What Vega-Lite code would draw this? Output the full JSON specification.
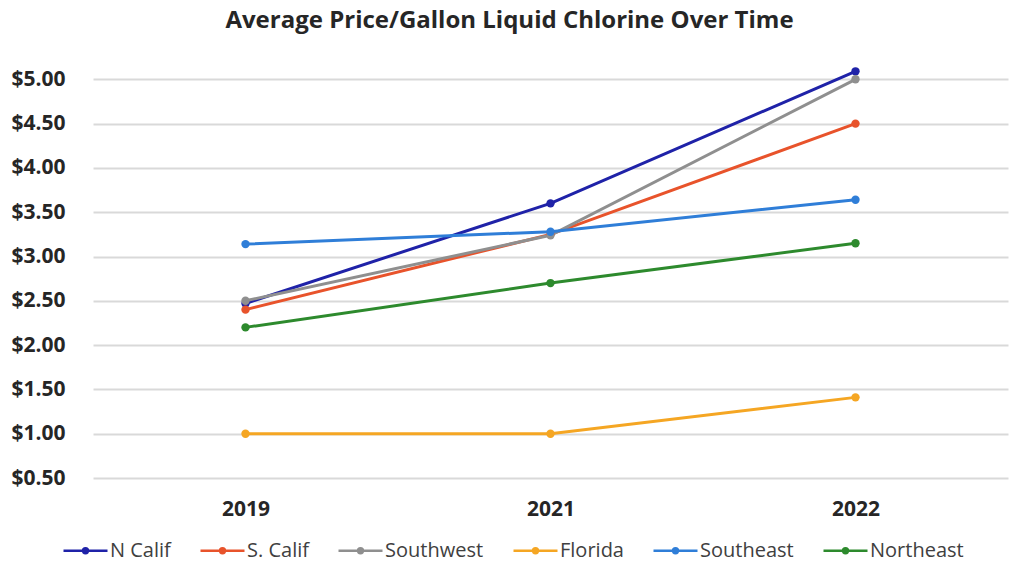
{
  "$schema": "https://vega.github.io/schema/vega-lite/v6.json",
  "width": 915,
  "height": 443,
  "padding": {"left": 10, "top": 9, "right": 14, "bottom": 10},
  "background": "white",
  "title": {
    "text": "Average Price/Gallon Liquid Chlorine Over Time",
    "font": "Open Sans",
    "fontSize": 24,
    "fontWeight": "bold",
    "color": "#262626",
    "anchor": "middle",
    "frame": "bounds",
    "offset": 2
  },
  "data": {
    "values": [
      {"region": "N Calif", "year": "2019", "price": 2.47},
      {"region": "N Calif", "year": "2021", "price": 3.60},
      {"region": "N Calif", "year": "2022", "price": 5.09},
      {"region": "S. Calif", "year": "2019", "price": 2.40},
      {"region": "S. Calif", "year": "2021", "price": 3.25},
      {"region": "S. Calif", "year": "2022", "price": 4.50},
      {"region": "Southwest", "year": "2019", "price": 2.50},
      {"region": "Southwest", "year": "2021", "price": 3.24},
      {"region": "Southwest", "year": "2022", "price": 5.00},
      {"region": "Florida", "year": "2019", "price": 1.00},
      {"region": "Florida", "year": "2021", "price": 1.00},
      {"region": "Florida", "year": "2022", "price": 1.41},
      {"region": "Southeast", "year": "2019", "price": 3.14},
      {"region": "Southeast", "year": "2021", "price": 3.28},
      {"region": "Southeast", "year": "2022", "price": 3.64},
      {"region": "Northeast", "year": "2019", "price": 2.20},
      {"region": "Northeast", "year": "2021", "price": 2.70},
      {"region": "Northeast", "year": "2022", "price": 3.15}
    ]
  },
  "encoding": {
    "x": {
      "field": "year",
      "type": "ordinal",
      "scale": {"type": "point", "padding": 0.5},
      "axis": {
        "title": null,
        "labelAngle": 0,
        "domain": false,
        "ticks": false,
        "grid": false,
        "labelFont": "Open Sans",
        "labelFontSize": 21,
        "labelFontWeight": "bold",
        "labelColor": "#262626",
        "labelPadding": 20
      }
    },
    "y": {
      "field": "price",
      "type": "quantitative",
      "scale": {"domain": [0.5, 5.5], "nice": false, "zero": false},
      "axis": {
        "title": null,
        "values": [0.5, 1, 1.5, 2, 2.5, 3, 3.5, 4, 4.5, 5],
        "format": "$.2f",
        "domain": false,
        "ticks": false,
        "gridColor": "#d9d9d9",
        "gridWidth": 2,
        "labelFont": "Open Sans",
        "labelFontSize": 21,
        "labelFontWeight": "bold",
        "labelColor": "#262626",
        "labelPadding": 28
      }
    },
    "color": {
      "field": "region",
      "type": "nominal",
      "sort": ["N Calif", "S. Calif", "Southwest", "Florida", "Southeast", "Northeast"],
      "scale": {
        "domain": ["N Calif", "S. Calif", "Southwest", "Florida", "Southeast", "Northeast"],
        "range": ["#1f22a8", "#e8532b", "#8f8f8f", "#f5a623", "#2f7ed8", "#2d8a2d"]
      },
      "legend": {
        "title": null,
        "orient": "none",
        "legendX": -31,
        "legendY": 492,
        "direction": "horizontal",
        "columns": 6,
        "symbolType": "M-1,0H1M-0.11,0A0.11,0.11,0,1,1,0.11,0A0.11,0.11,0,1,1,-0.11,0",
        "symbolSize": 1936,
        "symbolStrokeWidth": 2.5,
        "labelFont": "Open Sans",
        "labelFontSize": 20,
        "labelColor": "#404040",
        "labelOffset": 1,
        "columnPadding": 24,
        "encode": {
          "symbols": {"update": {"fill": {"scale": "color", "field": "value"}}}
        }
      }
    }
  },
  "layer": [
    {"mark": {"type": "line", "strokeWidth": 3}},
    {"mark": {"type": "point", "filled": true, "size": 70, "opacity": 1}}
  ],
  "config": {"view": {"stroke": null}}
}
